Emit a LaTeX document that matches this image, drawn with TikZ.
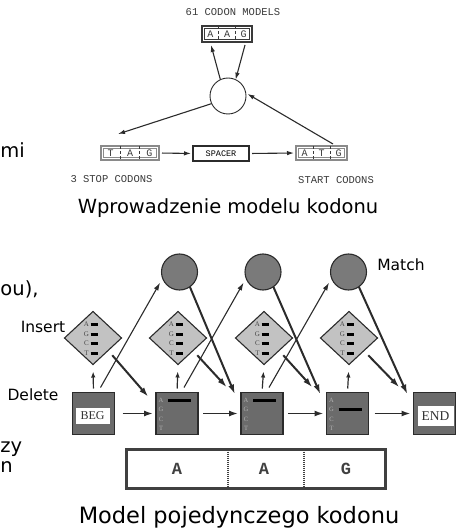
\documentclass[tikz,border=0pt]{standalone}
\usepackage{fontspec}
\setmainfont{DejaVu Sans}
\newfontfamily\monof{Liberation Mono}
\newfontfamily\seriff{Liberation Serif}
\usetikzlibrary{arrows.meta,shapes.geometric,calc}
\definecolor{boxgray}{HTML}{6B6B6B}
\definecolor{circgray}{HTML}{7A7A7A}
\definecolor{diagray}{HTML}{C2C2C2}
\definecolor{edgec}{HTML}{2B2B2B}
\definecolor{topline}{HTML}{3A3A3A}
\definecolor{lightline}{HTML}{8A8A8A}
\begin{document}
\begin{tikzpicture}[x=1pt,y=-1pt,
  every node/.style={inner sep=0pt,outer sep=0pt},
  monot/.style={font=\monof\fontsize{10.5}{12}\selectfont, text=topline},
  codonbox/.style={draw=lightline, line width=1.8pt, minimum height=14pt},
  darkcodon/.style={draw=topline, line width=2pt, minimum height=16pt, minimum width=50pt},
  spacerbox/.style={draw=edgec, line width=1.6pt, minimum width=56pt, minimum height=15pt, font=\monof\fontsize{8.5}{9}\selectfont},
  codonlet/.style={font=\monof\fontsize{10}{11}\selectfont, text=topline},
  divline/.style={densely dashed, line width=0.7pt, draw=topline},
  innerline/.style={line width=0.5pt, draw=topline},
  toparr/.style={-{Latex[length=7pt,width=4.5pt]}, line width=1.1pt, draw=edgec},
  statebox/.style={draw=edgec, line width=1.1pt, fill=boxgray, minimum width=42pt, minimum height=42pt},
  matchc/.style={circle, draw=edgec, line width=1.1pt, fill=circgray, minimum size=36pt},
  insd/.style={diamond, draw=edgec, line width=1.1pt, fill=diagray, minimum width=57pt, minimum height=53pt},
  whitelab/.style={fill=white, font=\seriff\fontsize{12}{13}\selectfont, text=black!80},
  arrh/.style={-{Latex[length=9pt,width=6pt]}, line width=1.6pt, draw=edgec},
  arrv/.style={-{Latex[length=6pt,width=4.5pt]}, line width=1.2pt, draw=edgec},
  arrlong/.style={-{Latex[length=8pt,width=5pt]}, line width=1.1pt, draw=edgec},
  arrthick/.style={-{Latex[length=10pt,width=6pt]}, line width=2pt, draw=edgec},
  captxt/.style={font=\fontsize{19.5}{24}\selectfont, anchor=base},
  fragtxt/.style={font=\fontsize{19.5}{24}\selectfont, anchor=base west},
  sidetxt/.style={font=\fontsize{15.5}{18}\selectfont, anchor=base},
  tinylet/.style={font=\seriff\fontsize{7}{7}\selectfont, text=black!72},
  tinyletb/.style={font=\seriff\fontsize{6.5}{7}\selectfont, text=black!30},
  barline/.style={line width=3pt, line cap=butt, draw=black},
  bigbar/.style={draw=black!75, line width=3pt, minimum width=259pt, minimum height=39pt},
  barlet/.style={font=\monof\bfseries\fontsize{17}{18}\selectfont, text=black!75},
]
\useasboundingbox (0,0) rectangle (457,529);

% ---------------- top diagram ----------------
\node[monot] (t61) at (233,12) {61 CODON MODELS};
\node[darkcodon] (aag) at (227,34) {};
\draw[innerline] ($(aag.north west)+(2.5,2.5)$) rectangle ($(aag.south east)+(-2.5,-2.5)$);
\foreach \k/\ch/\f in {1/A/0.1667,2/A/0.5,3/G/0.8333}
  \node[codonlet] (aag\k) at ($(aag.west)!\f!(aag.east)$) {\ch};
\foreach \f in {0.333,0.667}
  \draw[divline] ($(aag.north west)!\f!(aag.north east)$) -- ($(aag.south west)!\f!(aag.south east)$);

\node[circle, draw=edgec, line width=0.9pt, minimum size=36pt] (hub) at (228,96) {};

\node[codonbox, minimum width=58pt] (tag) at (130,153) {};
\draw[innerline, draw=lightline] ($(tag.north west)+(2.3,2.3)$) rectangle ($(tag.south east)+(-2.3,-2.3)$);
\foreach \k/\ch/\f in {1/T/0.1667,2/A/0.5,3/G/0.8333}
  \node[codonlet] (tag\k) at ($(tag.west)!\f!(tag.east)$) {\ch};
\foreach \f in {0.333,0.667}
  \draw[divline] ($(tag.north west)!\f!(tag.north east)$) -- ($(tag.south west)!\f!(tag.south east)$);

\node[spacerbox] (spacer) at (221,153.5) {SPACER};

\node[codonbox, minimum width=51pt] (atg) at (321.5,153) {};
\draw[innerline, draw=lightline] ($(atg.north west)+(2.3,2.3)$) rectangle ($(atg.south east)+(-2.3,-2.3)$);
\foreach \k/\ch/\f in {1/A/0.1667,2/T/0.5,3/G/0.8333}
  \node[codonlet] (atg\k) at ($(atg.west)!\f!(atg.east)$) {\ch};
\foreach \f in {0.333,0.667}
  \draw[divline] ($(atg.north west)!\f!(atg.north east)$) -- ($(atg.south west)!\f!(atg.south east)$);

\node[monot] (stop) at (111.5,179) {3 STOP CODONS};
\node[monot] (start) at (336,180) {START CODONS};

\draw[toparr] (hub.115) -- ($(aag.south west)+(9,3)$);
\draw[toparr] ($(aag.south east)+(-7,3)$) -- (hub.65);
\draw[toparr] (hub.205) -- ($(tag.north west)+(17,-12)$);
\draw[toparr, shorten >=2pt] ($(atg.north east)+(-14,-2)$) -- (hub.10);
\draw[toparr, shorten <=3pt, shorten >=2pt] (tag.east) -- (spacer.west);
\draw[toparr, shorten <=3pt, shorten >=2pt] (spacer.east) -- (atg.west);

\node[captxt] (cap1) at (228,213) {Wprowadzenie modelu kodonu};

% ---------------- bottom diagram ----------------
\node[matchc] (c1) at (179.5,272) {};
\node[matchc] (c2) at (263,272) {};
\node[matchc] (c3) at (348.5,272) {};

\node[insd] (d1) at (93,338) {};
\node[insd] (d2) at (178,338) {};
\node[insd] (d3) at (264,338) {};
\node[insd] (d4) at (349,338) {};

\node[statebox] (beg) at (93.5,413.5) {};
\node[statebox] (box1) at (177,413.5) {};
\node[statebox] (box2) at (262,413.5) {};
\node[statebox] (box3) at (347.5,413.5) {};
\node[statebox] (fin) at (434.5,413.5) {};
\node[whitelab, minimum width=34pt, minimum height=16pt] (begl) at (92.5,416) {BEG};
\node[whitelab, minimum width=36pt, minimum height=20pt, font=\seriff\fontsize{13.5}{14}\selectfont] (finl) at (435.5,416) {END};

% letters and bars in diamonds
\foreach \d in {d1,d2,d3,d4}{
  \foreach \r/\ch in {0/A,1/G,2/C,3/T}{
    \node[tinylet] (\d l\ch) at ($(\d.center)+(-6.5,-13.5+9.5*\r)$) {\ch};
    \draw[barline] ($(\d.center)+(-2.5,-13.5+9.5*\r)$) -- ++(7,0);
  }
}
% letters and bars in match boxes
\foreach \b/\row in {box1/0,box2/0,box3/1}{
  \foreach \r/\ch in {0/A,1/G,2/C,3/T}{
    \node[tinyletb] (\b l\ch) at ($(\b.north west)+(5,7.5+9.6*\r)$) {\ch};
  }
  \draw[barline] ($(\b.north west)+(12,7.5+9.6*\row)$) -- ++(23,0);
}

% horizontal arrows
\draw[arrh, shorten <=8pt, shorten >=3pt] (beg.east) -- (box1.west);
\draw[arrh, shorten <=5pt, shorten >=3pt] (box1.east) -- (box2.west);
\draw[arrh, shorten <=5pt, shorten >=3pt] (box2.east) -- (box3.west);
\draw[arrh, shorten <=6pt, shorten >=3pt] (box3.east) -- (fin.west);

% vertical arrows to inserts
\draw[arrv, shorten <=4pt, shorten >=7pt] (beg.north) -- (d1.south);
\draw[arrv, shorten <=4pt, shorten >=7pt] (box1.north) -- (d2.south);
\draw[arrv, shorten <=4pt, shorten >=7pt] (box2.north) -- (d3.south);
\draw[arrv, shorten <=4pt, shorten >=7pt] (box3.north) -- (d4.south);

% long arrows to match circles
\draw[arrlong, shorten >=5pt] ($(beg.north)+(7,-5)$) -- (c1.200);
\draw[arrlong, shorten >=5pt] ($(box1.north)+(7,-5)$) -- (c2.200);
\draw[arrlong, shorten >=5pt] ($(box2.north)+(7,-5)$) -- (c3.200);

% thick arrows from inserts
\draw[arrthick] ($(d1.south east)+(5,4)$) -- ($(box1.north west)+(-7.5,4.5)$);
\draw[arrthick] ($(d2.south east)+(5,4)$) -- ($(box2.north west)+(-14,-5)$);
\draw[arrthick] ($(d3.south east)+(5,4)$) -- ($(box3.north west)+(-14,-5)$);
\draw[arrthick] ($(d4.south east)+(5,4)$) -- ($(fin.north west)+(-14,-5)$);

% thick arrows from match circles
\draw[arrthick] (c1.-55) -- ($(box2.north west)+(-6,2)$);
\draw[arrthick] (c2.-55) -- ($(box3.north west)+(-6,2)$);
\draw[arrthick] (c3.-55) -- ($(fin.north west)+(-6,2)$);

% side labels
\node[sidetxt] (ins) at (43,332) {Insert};
\node[sidetxt] (del) at (33,400) {Delete};
\node[sidetxt] (mat) at (401,270) {Match};

% sequence bar
\node[bigbar] (seq) at (256,469) {};
\draw[line width=2.5pt, dash pattern=on 1pt off 1pt, draw=black!75] ($(seq.north west)!0.392!(seq.north east)+(0,2)$) -- ($(seq.south west)!0.392!(seq.south east)+(0,-2)$);
\draw[line width=2.5pt, dash pattern=on 1pt off 1pt, draw=black!75] ($(seq.north west)!0.685!(seq.north east)+(0,2)$) -- ($(seq.south west)!0.685!(seq.south east)+(0,-2)$);
\node[barlet] (s1) at (177,469) {A};
\node[barlet] (s2) at (264,469) {A};
\node[barlet] (s3) at (346,469) {G};

\node[captxt, font=\fontsize{22.5}{26}\selectfont] (cap2) at (239,523) {Model pojedynczego kodonu};

% slide text cut at the left edge
\node[fragtxt] (frag1) at (0.5,158) {mi};
\node[fragtxt] (frag2) at (0.5,295) {ou),};
\node[fragtxt] (frag3) at (0.5,452) {zy};
\node[fragtxt] (frag4) at (0.5,472) {n};
\end{tikzpicture}
\end{document}
